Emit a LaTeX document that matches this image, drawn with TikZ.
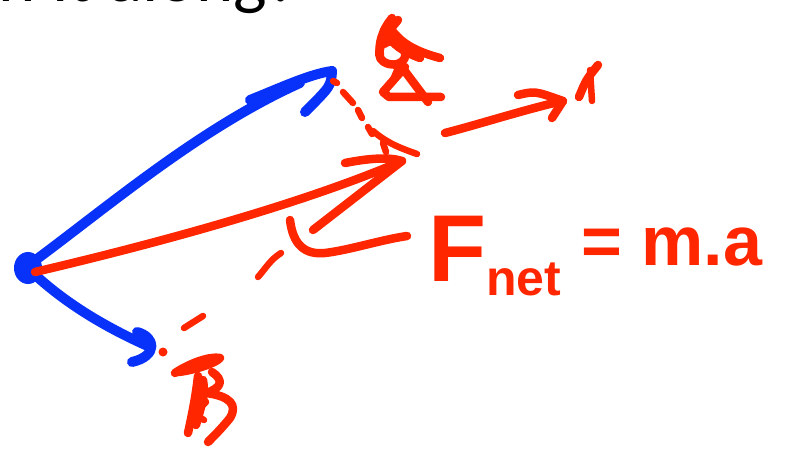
\documentclass[tikz,border=0pt]{standalone}
\usepackage{fontspec}
\newfontfamily\slidefont{Carlito}
\newfontfamily\penfont{Liberation Sans}
\definecolor{penblue}{RGB}{8,50,250}
\definecolor{penred}{RGB}{255,38,0}
\tikzstyle{every path}=[line cap=round,line join=round]
\tikzstyle{bluepen}=[draw=penblue,line width=10pt]
\tikzstyle{redpen}=[draw=penred,line width=8.5pt]
\tikzstyle{dashpen}=[draw=penred,line width=6.5pt]

\begin{document}
\begin{tikzpicture}[x=1pt,y=-1pt]
\useasboundingbox (0,0) rectangle (798,457);
%Slide title (cut off at the top)
	\node[anchor=base east,inner sep=0pt,font=\slidefont\fontsize{71}{80}\selectfont] (title) at (300,2) {n it along?};
%Point where the forces act
	\coordinate (O) at (28,268);
	\fill[penblue] (O) ellipse [x radius=14pt,y radius=16pt];
 %Upper blue force
	\coordinate (B1) at (332,71);
	\draw[bluepen] (33,262) .. controls (110,205) and (200,128) .. (300,83);
	\draw[bluepen] (250,100) .. controls (280,88) and (310,74) .. (B1) .. controls (331,86) .. (305,112);
 %Lower blue force
	\coordinate (B2) at (150,347);
	\draw[bluepen] (33,273) .. controls (62,300) and (100,325) .. (B2);
	\draw[bluepen] (137,332) .. controls (156,337) and (158,356) .. (132,362);
%Resultant (red)
	\coordinate (R) at (402,161);
	\draw[redpen] (35,272) .. controls (150,245) and (300,205) .. (R);
	\draw[redpen] (345,163) .. controls (370,158) and (390,157) .. (R) -- (313,230);
 %dashed sides of the parallelogram
	\draw[dashpen] (333,81) -- (337,83);
	\draw[dashpen] (343,92) -- (353,103);
	\draw[dashpen] (358,110) -- (362,118);
	\draw[dashpen] (368,127) -- (372,134);
	\draw[dashpen] (373,131) .. controls (387,143) and (400,148) .. (417,154);
	\draw[dashpen] (383,143) -- (386,152);
	\fill[penred] (163,352) circle (4.5pt);
	\draw[dashpen] (184,328) -- (203,316);
	\draw[dashpen] (258,277) .. controls (266,268) and (270,260) .. (281,253);
 %angle mark
	\draw[redpen] (290,220) .. controls (293,245) and (305,255) .. (325,253) .. controls (350,250) and (380,240) .. (407,236);
%Acceleration arrow
	\coordinate (A) at (563,101);
	\draw[redpen] (445,133) .. controls (480,124) and (530,108) .. (A);
	\draw[redpen] (518,95) .. controls (535,91) .. (A) -- (552,118);
	\draw[redpen] (579,97) .. controls (586,80) .. (598,65);
	\draw[dashpen] (590,70) -- (592,101);
%Scribbled symbols
	\draw[redpen] (398,20) .. controls (385,35) and (372,55) .. (384,62) .. controls (398,70) and (412,58) .. (402,47) .. controls (396,40) and (388,40) .. (384,44);
	\draw[redpen] (392,18) .. controls (382,30) and (378,45) .. (380,55);
	\draw[redpen] (388,25) .. controls (398,40) and (410,50) .. (440,58);
	\draw[redpen] (384,30) .. controls (392,45) and (404,52) .. (420,58);
	\draw[redpen] (405,67) -- (383,92) -- (389,97) -- (441,97);
	\draw[redpen] (404,70) -- (428,102);
	\draw[dashpen] (398,68) -- (392,82);
	\draw[redpen] (175,373) .. controls (190,363) and (210,356) .. (220,358) .. controls (215,364) and (190,371) .. (178,372);
	\draw[redpen] (198,376) .. controls (196,395) and (192,415) .. (188,433);
	\draw[redpen] (203,380) .. controls (206,395) and (200,410) .. (196,425);
	\draw[dashpen] (196,390) -- (206,402) -- (194,414) -- (204,420);
	\draw[redpen] (212,372) .. controls (224,380) and (222,388) .. (206,393) .. controls (230,396) and (238,405) .. (230,418) .. controls (222,428) and (214,436) .. (208,442);
%Newton's second law
	\node[anchor=base west,inner sep=0pt,text=penred,font=\penfont\bfseries] (law) at (428,281)
	 {\fontsize{95}{95}\selectfont F\raisebox{-14pt}{\fontsize{50}{50}\selectfont net}\hspace{20pt}\raisebox{16pt}{\fontsize{70}{70}\selectfont = m.a}};
\end{tikzpicture}
\end{document}
